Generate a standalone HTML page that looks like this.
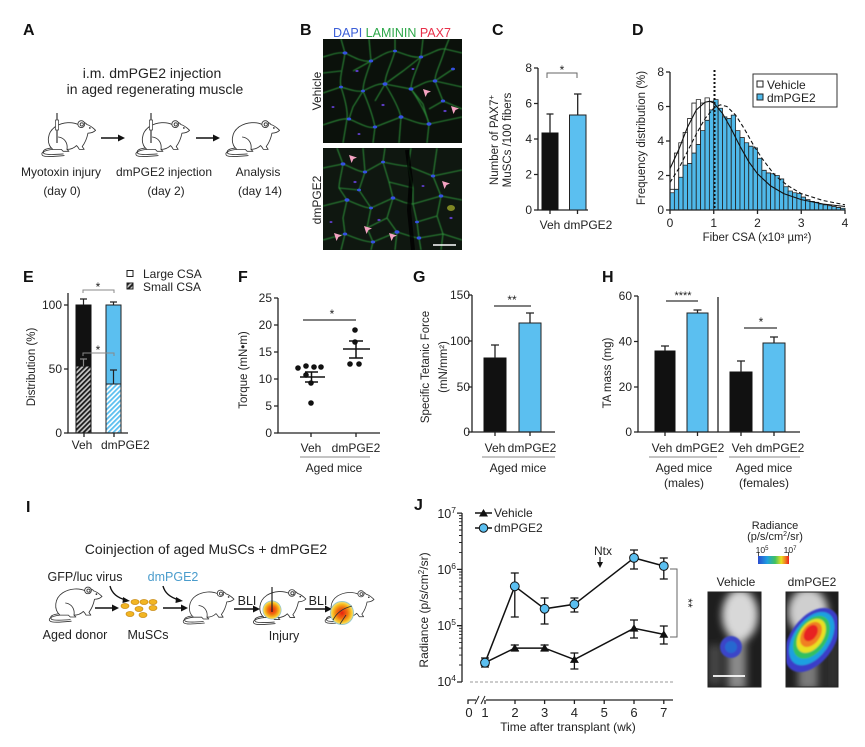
<!DOCTYPE html>
<html><head><meta charset="utf-8">
<style>
html,body{margin:0;padding:0;background:#fff}
svg{display:block}
text{font-family:"Liberation Sans",Arial,sans-serif;fill:#222}
.pl{font-size:16px;font-weight:bold;fill:#111}
.tk{font-size:12px}
.ax{font-size:11.5px}
.lb{font-size:12px}
</style></head><body>
<svg width="865" height="747" viewBox="0 0 865 747" xmlns="http://www.w3.org/2000/svg">
<defs>
<symbol id="mouse" viewBox="0 0 60 42" overflow="visible">
<g fill="#fff" stroke="#333" stroke-width="0.9" stroke-linejoin="round" stroke-linecap="round">
<path d="M15 34 C7 35 2 37 4 40 C6 42.5 16 41.5 27 40.5" fill="none"/>
<path d="M15 32.5 C7 33 3 35.5 6 38.5 C9 40 17 39.5 26 38.8" fill="none"/>
<path d="M15 34 C8 28 9 16 18 10 C26 5 36 5 42 8 C45 5 49 5 51 8 C55 9 58 12 60 14 C58 16 55 17 52 17 C51 22 49 27 46 31 L48 34 L43 34 C42 32 41 31 40 30 C37 33 33 34 30 34 L32 36 L26 36 L24 34 Z"/>
<path d="M21 21 C28 22 31 28 30 34" fill="none"/>
<circle cx="45" cy="7.5" r="3.6"/>
<circle cx="45.5" cy="7.8" r="1.7" fill="none"/>
</g>
<circle cx="54" cy="11.5" r="0.9" fill="#222"/>
</symbol>
<pattern id="hk" width="3.5" height="3.5" patternUnits="userSpaceOnUse" patternTransform="rotate(45)"><rect width="3.5" height="3.5" fill="#c8c8c8"/><rect width="1.8" height="3.5" fill="#1a1a1a"/></pattern>
<pattern id="hb" width="3.5" height="3.5" patternUnits="userSpaceOnUse" patternTransform="rotate(45)"><rect width="3.5" height="3.5" fill="#fff"/><rect width="1.8" height="3.5" fill="#5bbff0"/></pattern>
<linearGradient id="cb" x1="0" x2="1" y1="0" y2="0">
<stop offset="0" stop-color="#2a4bd0"/><stop offset="0.3" stop-color="#1fa0e0"/><stop offset="0.55" stop-color="#40c060"/><stop offset="0.75" stop-color="#e8e020"/><stop offset="0.88" stop-color="#f08020"/><stop offset="1" stop-color="#e82020"/>
</linearGradient>
<radialGradient id="glow"><stop offset="0" stop-color="#e82010"/><stop offset="0.45" stop-color="#f07010"/><stop offset="0.75" stop-color="#f8c020"/><stop offset="0.88" stop-color="#f8d860"/><stop offset="1" stop-color="#70c0f0"/></radialGradient>
<filter id="bl" x="-50%" y="-50%" width="200%" height="200%"><feGaussianBlur stdDeviation="4"/></filter>
<filter id="bl1" x="-20%" y="-20%" width="140%" height="140%"><feGaussianBlur stdDeviation="0.8"/></filter>
<filter id="bl05" x="-5%" y="-5%" width="110%" height="110%"><feGaussianBlur stdDeviation="0.5"/></filter>
<clipPath id="cB1"><rect x="323" y="39" width="139" height="104"/></clipPath>
<clipPath id="cB2"><rect x="323" y="148" width="139" height="102"/></clipPath>
<clipPath id="cV"><rect x="708" y="592" width="53" height="95"/></clipPath>
<clipPath id="cD"><rect x="786" y="592" width="52" height="95"/></clipPath>
<polygon id="arr" points="0,0 8,2.5 4.5,4 2.5,8" fill="#f4a3c2"/>
</defs>
<rect width="865" height="747" fill="#fff"/>

<!-- ===== Panel A ===== -->
<text class="pl" x="23" y="35">A</text>
<text x="152" y="78" text-anchor="middle" font-size="14">i.m. dmPGE2 injection</text>
<text x="155" y="94" text-anchor="middle" font-size="14">in aged regenerating muscle</text>
<use href="#mouse" x="38" y="117" width="58" height="40"/>
<use href="#mouse" x="132" y="117" width="58" height="40"/>
<use href="#mouse" x="222" y="117" width="58" height="40"/>
<line x1="57" y1="113" x2="57" y2="143" stroke="#333" stroke-width="1.2"/>
<rect x="55.5" y="120" width="3" height="10" fill="#fff" stroke="#333" stroke-width="0.7"/>
<line x1="151" y1="113" x2="151" y2="143" stroke="#333" stroke-width="1.2"/>
<rect x="149.5" y="120" width="3" height="10" fill="#fff" stroke="#333" stroke-width="0.7"/>
<line x1="101" y1="138" x2="120" y2="138" stroke="#111" stroke-width="1.6"/>
<polygon points="125,138 118,134.5 118,141.5" fill="#111"/>
<line x1="196" y1="138" x2="215" y2="138" stroke="#111" stroke-width="1.6"/>
<polygon points="220,138 213,134.5 213,141.5" fill="#111"/>
<text class="lb" x="61" y="176" text-anchor="middle">Myotoxin injury</text>
<text class="lb" x="62" y="195" text-anchor="middle">(day 0)</text>
<text class="lb" x="164" y="176" text-anchor="middle">dmPGE2 injection</text>
<text class="lb" x="166" y="195" text-anchor="middle">(day 2)</text>
<text class="lb" x="258" y="176" text-anchor="middle">Analysis</text>
<text class="lb" x="260" y="195" text-anchor="middle">(day 14)</text>

<!-- ===== Panel B ===== -->
<text class="pl" x="300" y="35">B</text>
<text x="333" y="37" font-size="12.5"><tspan fill="#3c5fd8">DAPI</tspan> <tspan fill="#2ea84a">LAMININ</tspan> <tspan fill="#e8304a">PAX7</tspan></text>
<text x="321" y="91" font-size="12" text-anchor="middle" transform="rotate(-90 321 91)">Vehicle</text>
<text x="321" y="200" font-size="12" text-anchor="middle" transform="rotate(-90 321 200)">dmPGE2</text>
<g clip-path="url(#cB1)">
<rect x="323" y="39" width="139" height="104" fill="#0b110b"/>
<g transform="translate(323,39)" fill="none" stroke="#2f9a3c" stroke-width="1.1" stroke-opacity="0.85" filter="url(#bl05)">
<path d="M0 18 C10 15 16 13 22 14 C34 20 40 23 48 22 C58 17 64 12 72 12 C84 16 90 19 98 18 C110 14 116 9 122 10 L139 14"/>
<path d="M0 54 L18 48 C28 51 34 53 40 52 C50 47 56 44 62 45 L88 50 C98 46 104 41 112 42 L139 48"/>
<path d="M0 86 C12 82 20 79 26 80 C38 85 46 90 52 88 L78 78 C90 82 98 86 106 85 L139 78"/>
<path d="M18 0 L22 14 C20 28 16 40 18 48 C22 60 25 72 24 80 L20 104"/>
<path d="M46 0 L48 22 C44 34 40 44 40 52 C46 66 50 78 52 88 L50 104"/>
<path d="M72 0 L72 12 C68 26 62 36 62 45 C70 58 76 70 78 78 L76 104"/>
<path d="M100 0 L98 18 C94 30 88 42 88 50 C96 62 104 76 106 85 L104 104"/>
<path d="M126 0 L122 10 C118 24 112 34 112 42 L120 62 L139 70"/>
<path d="M30 32 L48 22 M62 45 L80 32 L98 18 M88 50 L100 65 L106 85 M40 52 L30 68 L26 80 M112 42 L130 30 M0 34 L18 32 M120 62 L106 70 M62 45 L52 62"/>
</g>
<g transform="translate(323,39)" fill="#3550e0">
<ellipse cx="22" cy="14" rx="2.5" ry="1.6"/><ellipse cx="48" cy="22" rx="2.2" ry="1.5"/><ellipse cx="62" cy="45" rx="2.5" ry="1.7"/><ellipse cx="88" cy="50" rx="2.4" ry="1.6"/><ellipse cx="112" cy="42" rx="2.3" ry="1.6"/><ellipse cx="78" cy="78" rx="2.5" ry="1.7"/><ellipse cx="26" cy="80" rx="2.2" ry="1.5"/><ellipse cx="106" cy="85" rx="2.5" ry="1.7"/><ellipse cx="18" cy="48" rx="2" ry="1.4"/><ellipse cx="98" cy="18" rx="2.2" ry="1.5"/><ellipse cx="130" cy="30" rx="2" ry="1.4"/><ellipse cx="52" cy="88" rx="2.2" ry="1.5"/><ellipse cx="72" cy="12" rx="2" ry="1.4"/><ellipse cx="40" cy="52" rx="2" ry="1.4"/><ellipse cx="120" cy="62" rx="2.2" ry="1.5"/>
<g fill="#5a3cc0"><ellipse cx="34" cy="32" rx="1.6" ry="1.1"/><ellipse cx="60" cy="66" rx="1.6" ry="1.1"/><ellipse cx="90" cy="30" rx="1.5" ry="1"/><ellipse cx="122" cy="72" rx="1.6" ry="1.1"/><ellipse cx="10" cy="68" rx="1.5" ry="1"/><ellipse cx="36" cy="95" rx="1.5" ry="1"/></g>
</g>
<use href="#arr" x="423" y="89"/>
<use href="#arr" x="451" y="106"/>
</g>
<g clip-path="url(#cB2)">
<rect x="323" y="148" width="139" height="102" fill="#0f1710"/>
<g transform="translate(323,148)" fill="none" stroke="#2f9a3c" stroke-width="1.1" stroke-opacity="0.85" filter="url(#bl05)">
<path d="M0 20 L20 16 C30 20 36 24 42 24 L60 14 C70 16 78 18 85 18 L110 28 L139 22"/>
<path d="M0 58 L24 52 C34 56 42 60 48 60 L70 50 C78 53 84 56 90 56 L118 48 L139 52"/>
<path d="M0 92 L22 86 C32 90 42 94 50 94 L74 84 C82 86 90 90 96 90 L120 86 L139 92"/>
<path d="M14 0 L20 16 C18 28 16 34 16 40 L24 52 L20 70 L22 86 L18 102"/>
<path d="M40 0 L42 24 L36 42 L48 60 L44 80 L50 94 L48 102"/>
<path d="M62 0 L60 14 L66 34 L70 50 L64 70 L74 84 L72 102"/>
<path d="M88 0 L85 18 L90 40 L90 56 L94 74 L96 90 L98 102"/>
<path d="M114 0 L110 28 L118 48 L114 68 L120 86 L118 102"/>
<path d="M36 42 L16 40 M66 34 L90 40 M114 68 L94 74 M44 80 L64 70"/>
</g>
<path d="M84 150 L88 180 L86 210 L90 250" stroke="#000" stroke-width="4" fill="none" transform="translate(323,0)" opacity="0.8"/>
<g transform="translate(323,148)" fill="#3550e0">
<ellipse cx="20" cy="16" rx="2.4" ry="1.6"/><ellipse cx="42" cy="24" rx="2.2" ry="1.5"/><ellipse cx="24" cy="52" rx="2.5" ry="1.7"/><ellipse cx="70" cy="50" rx="2.3" ry="1.6"/><ellipse cx="118" cy="48" rx="2.3" ry="1.6"/><ellipse cx="74" cy="84" rx="2.5" ry="1.7"/><ellipse cx="22" cy="86" rx="2.2" ry="1.5"/><ellipse cx="96" cy="90" rx="2.3" ry="1.6"/><ellipse cx="48" cy="60" rx="2" ry="1.4"/><ellipse cx="110" cy="28" rx="2.2" ry="1.5"/><ellipse cx="60" cy="14" rx="2" ry="1.4"/><ellipse cx="50" cy="94" rx="2.2" ry="1.5"/><ellipse cx="36" cy="42" rx="2" ry="1.4"/><ellipse cx="94" cy="74" rx="2" ry="1.4"/>
<g fill="#5a3cc0"><ellipse cx="32" cy="34" rx="1.6" ry="1.1"/><ellipse cx="56" cy="72" rx="1.6" ry="1.1"/><ellipse cx="100" cy="38" rx="1.5" ry="1"/><ellipse cx="128" cy="70" rx="1.6" ry="1.1"/><ellipse cx="8" cy="74" rx="1.5" ry="1"/></g>
<ellipse cx="128" cy="60" rx="4" ry="3" fill="#c8d030" opacity="0.6"/>
</g>
<use href="#arr" x="349" y="155"/>
<use href="#arr" x="442" y="181"/>
<use href="#arr" x="364" y="226"/>
<use href="#arr" x="389" y="233"/>
<use href="#arr" x="334" y="233"/>
<line x1="433" y1="245" x2="456" y2="245" stroke="#fff" stroke-width="1.6"/>
</g>

<!-- ===== Panel C ===== -->
<text class="pl" x="492" y="35">C</text>
<g stroke="#222" stroke-width="1.3" fill="none">
<path d="M538 68 V210 H588"/>
<path d="M534 68 H538 M534 103.5 H538 M534 139 H538 M534 174.5 H538 M534 210 H538"/>
<path d="M550 210 V214 M577.5 210 V214"/>
</g>
<g class="tk" text-anchor="end"><text x="532" y="72">8</text><text x="532" y="107.5">6</text><text x="532" y="143">4</text><text x="532" y="178.5">2</text><text x="532" y="214">0</text></g>
<rect x="542" y="133" width="16" height="77" fill="#111" stroke="#111"/>
<rect x="569.5" y="115" width="16.5" height="95" fill="#5bbff0" stroke="#222" stroke-width="1"/>
<g stroke="#222" stroke-width="1.3"><path d="M550 133 V114 M546.5 114 H553.5 M577.7 115 V94 M574 94 H581.5"/></g>
<path d="M547 78 V73 H577 V78" stroke="#666" stroke-width="1" fill="none"/>
<text x="562" y="74" font-size="12" fill="#666" text-anchor="middle">*</text>
<text class="lb" x="550" y="229" text-anchor="middle">Veh</text>
<text class="lb" x="588" y="229" text-anchor="middle">dmPGE2</text>
<text class="ax" x="498" y="140" text-anchor="middle" transform="rotate(-90 498 140)">Number of PAX7<tspan font-size="8" dy="-4">+</tspan></text>
<text class="ax" x="511" y="140" text-anchor="middle" transform="rotate(-90 511 140)">MuSCs /100 fibers</text>

<!-- ===== Panel D ===== -->
<text class="pl" x="632" y="35">D</text>
<g transform="translate(670,210) scale(4.375,-17.25)" stroke="#222" stroke-width="0.8">
<g fill="#fff">
<rect x="0" y="0" width="1" height="1.2" vector-effect="non-scaling-stroke"/>
<rect x="1" y="0" width="1" height="3.3" vector-effect="non-scaling-stroke"/>
<rect x="2" y="0" width="1" height="3.9" vector-effect="non-scaling-stroke"/>
<rect x="3" y="0" width="1" height="4.5" vector-effect="non-scaling-stroke"/>
<rect x="4" y="0" width="1" height="5.3" vector-effect="non-scaling-stroke"/>
<rect x="5" y="0" width="1" height="6.2" vector-effect="non-scaling-stroke"/>
<rect x="6" y="0" width="1" height="6.4" vector-effect="non-scaling-stroke"/>
<rect x="7" y="0" width="1" height="6.2" vector-effect="non-scaling-stroke"/>
<rect x="8" y="0" width="1" height="6.5" vector-effect="non-scaling-stroke"/>
<rect x="9" y="0" width="1" height="6.3" vector-effect="non-scaling-stroke"/>
<rect x="10" y="0" width="1" height="5.7" vector-effect="non-scaling-stroke"/>
<rect x="11" y="0" width="1" height="5.0" vector-effect="non-scaling-stroke"/>
<rect x="12" y="0" width="1" height="4.5" vector-effect="non-scaling-stroke"/>
<rect x="13" y="0" width="1" height="4.0" vector-effect="non-scaling-stroke"/>
<rect x="14" y="0" width="1" height="3.5" vector-effect="non-scaling-stroke"/>
<rect x="15" y="0" width="1" height="3.0" vector-effect="non-scaling-stroke"/>
<rect x="16" y="0" width="1" height="2.6" vector-effect="non-scaling-stroke"/>
<rect x="17" y="0" width="1" height="2.3" vector-effect="non-scaling-stroke"/>
<rect x="18" y="0" width="1" height="2.0" vector-effect="non-scaling-stroke"/>
<rect x="19" y="0" width="1" height="1.8" vector-effect="non-scaling-stroke"/>
<rect x="20" y="0" width="1" height="1.6" vector-effect="non-scaling-stroke"/>
<rect x="21" y="0" width="1" height="1.4" vector-effect="non-scaling-stroke"/>
<rect x="22" y="0" width="1" height="1.2" vector-effect="non-scaling-stroke"/>
<rect x="23" y="0" width="1" height="1.0" vector-effect="non-scaling-stroke"/>
<rect x="24" y="0" width="1" height="0.9" vector-effect="non-scaling-stroke"/>
<rect x="25" y="0" width="1" height="0.8" vector-effect="non-scaling-stroke"/>
<rect x="26" y="0" width="1" height="0.7" vector-effect="non-scaling-stroke"/>
<rect x="27" y="0" width="1" height="0.6" vector-effect="non-scaling-stroke"/>
<rect x="28" y="0" width="1" height="0.5" vector-effect="non-scaling-stroke"/>
<rect x="29" y="0" width="1" height="0.45" vector-effect="non-scaling-stroke"/>
<rect x="30" y="0" width="1" height="0.4" vector-effect="non-scaling-stroke"/>
<rect x="31" y="0" width="1" height="0.35" vector-effect="non-scaling-stroke"/>
<rect x="32" y="0" width="1" height="0.3" vector-effect="non-scaling-stroke"/>
<rect x="33" y="0" width="1" height="0.25" vector-effect="non-scaling-stroke"/>
<rect x="34" y="0" width="1" height="0.2" vector-effect="non-scaling-stroke"/>
<rect x="35" y="0" width="1" height="0.18" vector-effect="non-scaling-stroke"/>
<rect x="36" y="0" width="1" height="0.15" vector-effect="non-scaling-stroke"/>
<rect x="37" y="0" width="1" height="0.12" vector-effect="non-scaling-stroke"/>
<rect x="38" y="0" width="1" height="0.1" vector-effect="non-scaling-stroke"/>
<rect x="39" y="0" width="1" height="0.08" vector-effect="non-scaling-stroke"/>
</g>
<g fill="#4fb9ea">
<rect x="0" y="0" width="1" height="1.0" vector-effect="non-scaling-stroke"/>
<rect x="1" y="0" width="1" height="1.2" vector-effect="non-scaling-stroke"/>
<rect x="2" y="0" width="1" height="1.9" vector-effect="non-scaling-stroke"/>
<rect x="3" y="0" width="1" height="2.6" vector-effect="non-scaling-stroke"/>
<rect x="4" y="0" width="1" height="2.7" vector-effect="non-scaling-stroke"/>
<rect x="5" y="0" width="1" height="3.3" vector-effect="non-scaling-stroke"/>
<rect x="6" y="0" width="1" height="3.8" vector-effect="non-scaling-stroke"/>
<rect x="7" y="0" width="1" height="4.6" vector-effect="non-scaling-stroke"/>
<rect x="8" y="0" width="1" height="5.2" vector-effect="non-scaling-stroke"/>
<rect x="9" y="0" width="1" height="5.8" vector-effect="non-scaling-stroke"/>
<rect x="10" y="0" width="1" height="6.4" vector-effect="non-scaling-stroke"/>
<rect x="11" y="0" width="1" height="5.9" vector-effect="non-scaling-stroke"/>
<rect x="12" y="0" width="1" height="5.4" vector-effect="non-scaling-stroke"/>
<rect x="13" y="0" width="1" height="5.3" vector-effect="non-scaling-stroke"/>
<rect x="14" y="0" width="1" height="5.5" vector-effect="non-scaling-stroke"/>
<rect x="15" y="0" width="1" height="4.6" vector-effect="non-scaling-stroke"/>
<rect x="16" y="0" width="1" height="4.2" vector-effect="non-scaling-stroke"/>
<rect x="17" y="0" width="1" height="3.9" vector-effect="non-scaling-stroke"/>
<rect x="18" y="0" width="1" height="3.7" vector-effect="non-scaling-stroke"/>
<rect x="19" y="0" width="1" height="3.6" vector-effect="non-scaling-stroke"/>
<rect x="20" y="0" width="1" height="3.0" vector-effect="non-scaling-stroke"/>
<rect x="21" y="0" width="1" height="2.3" vector-effect="non-scaling-stroke"/>
<rect x="22" y="0" width="1" height="2.15" vector-effect="non-scaling-stroke"/>
<rect x="23" y="0" width="1" height="2.1" vector-effect="non-scaling-stroke"/>
<rect x="24" y="0" width="1" height="2.0" vector-effect="non-scaling-stroke"/>
<rect x="25" y="0" width="1" height="1.8" vector-effect="non-scaling-stroke"/>
<rect x="26" y="0" width="1" height="1.35" vector-effect="non-scaling-stroke"/>
<rect x="27" y="0" width="1" height="1.1" vector-effect="non-scaling-stroke"/>
<rect x="28" y="0" width="1" height="1.0" vector-effect="non-scaling-stroke"/>
<rect x="29" y="0" width="1" height="0.95" vector-effect="non-scaling-stroke"/>
<rect x="30" y="0" width="1" height="0.75" vector-effect="non-scaling-stroke"/>
<rect x="31" y="0" width="1" height="0.6" vector-effect="non-scaling-stroke"/>
<rect x="32" y="0" width="1" height="0.5" vector-effect="non-scaling-stroke"/>
<rect x="33" y="0" width="1" height="0.45" vector-effect="non-scaling-stroke"/>
<rect x="34" y="0" width="1" height="0.35" vector-effect="non-scaling-stroke"/>
<rect x="35" y="0" width="1" height="0.3" vector-effect="non-scaling-stroke"/>
<rect x="36" y="0" width="1" height="0.25" vector-effect="non-scaling-stroke"/>
<rect x="37" y="0" width="1" height="0.2" vector-effect="non-scaling-stroke"/>
<rect x="38" y="0" width="1" height="0.15" vector-effect="non-scaling-stroke"/>
<rect x="39" y="0" width="1" height="0.1" vector-effect="non-scaling-stroke"/>
</g>
</g>
<polyline fill="none" stroke="#111" stroke-width="1.1" points="670,168.6 678.75,149.6 687.5,127.2 696.25,110 705,102.2 709.4,101.3 713.75,103 722.5,113.4 731.25,128.9 740,146.2 748.75,161.7 757.5,173.8 770.6,185.9 783.75,193.6 801.25,199.65 823.1,204 845,206.5"/>
<polyline fill="none" stroke="#111" stroke-width="1.1" stroke-dasharray="4 2.5" points="670,182.4 678.75,168.6 687.5,151.35 696.25,134.1 705,118.6 713.75,108.2 720.3,104.8 726.9,106.5 735.6,115.1 744.4,128.9 753.1,144.45 761.9,158.25 775,175.5 788.1,185.85 801.25,193.6 823.1,200.5 845,204.8"/>
<line x1="714.5" y1="70" x2="714.5" y2="210" stroke="#111" stroke-width="2" stroke-dasharray="2 2"/>
<g stroke="#222" stroke-width="1.3" fill="none">
<path d="M670 72 V210 H845"/>
<path d="M666 72 H670 M666 106.5 H670 M666 141 H670 M666 175.5 H670 M666 210 H670"/>
<path d="M670 210 V214 M713.75 210 V214 M757.5 210 V214 M801.25 210 V214 M845 210 V214"/>
</g>
<g class="tk" text-anchor="end"><text x="664" y="76">8</text><text x="664" y="110.5">6</text><text x="664" y="145">4</text><text x="664" y="179.5">2</text><text x="664" y="214">0</text></g>
<g class="tk" text-anchor="middle"><text x="670" y="227">0</text><text x="713.75" y="227">1</text><text x="757.5" y="227">2</text><text x="801.25" y="227">3</text><text x="845" y="227">4</text></g>
<text class="ax" x="757" y="241" text-anchor="middle">Fiber CSA (x10³ µm²)</text>
<text class="ax" x="645" y="138" text-anchor="middle" transform="rotate(-90 645 138)">Frequency distribution (%)</text>
<rect x="753" y="74" width="84" height="33" fill="#fff" stroke="#333" stroke-width="1"/>
<rect x="757" y="81" width="6" height="6" fill="#fff" stroke="#222"/>
<rect x="757" y="94" width="6" height="6" fill="#4fb9ea" stroke="#222"/>
<text class="lb" x="767" y="89">Vehicle</text>
<text class="lb" x="767" y="102">dmPGE2</text>

<!-- ===== Panel E ===== -->
<text class="pl" x="23" y="282">E</text>
<rect x="127" y="270.5" width="6" height="6" fill="#fff" stroke="#222"/>
<rect x="127" y="283" width="6" height="6" fill="url(#hk)" stroke="#222"/>
<text class="lb" x="143" y="278">Large CSA</text>
<text class="lb" x="143" y="291">Small CSA</text>
<rect x="76" y="305" width="15" height="61" fill="#111" stroke="#111"/>
<rect x="76" y="366" width="15" height="67" fill="url(#hk)" stroke="#111"/>
<rect x="106" y="305" width="15" height="79" fill="#5bbff0" stroke="#222"/>
<rect x="106" y="384" width="15" height="49" fill="url(#hb)" stroke="#222"/>
<g stroke="#222" stroke-width="1.2"><path d="M83.5 305 V299 M80 299 H87 M113.5 305 V302 M110 302 H117 M113.5 384 V370 M110 370 H117"/></g>
<path d="M83.5 366 V359 M80 359 H87" stroke="#888" stroke-width="1.2"/>
<g stroke="#888" stroke-width="1" fill="none"><path d="M83 293 V290 H114 V293"/><path d="M83 356 V353 H114 V356"/></g>
<text x="98" y="291" font-size="12" fill="#888" text-anchor="middle">*</text>
<text x="98" y="354" font-size="12" fill="#888" text-anchor="middle">*</text>
<g stroke="#222" stroke-width="1.3" fill="none">
<path d="M68 293 V433 H128"/>
<path d="M64 305 H68 M64 369 H68 M64 433 H68 M84 433 V437 M114 433 V437"/>
</g>
<g class="tk" text-anchor="end"><text x="62" y="309">100</text><text x="62" y="373">50</text><text x="62" y="437">0</text></g>
<text class="lb" x="82" y="449" text-anchor="middle">Veh</text>
<text class="lb" x="101" y="449">dmPGE2</text>
<text class="ax" x="35" y="367" text-anchor="middle" transform="rotate(-90 35 367)">Distribution (%)</text>

<!-- ===== Panel F ===== -->
<text class="pl" x="238" y="282">F</text>
<g stroke="#222" stroke-width="1.3" fill="none">
<path d="M278 298 V433 H380"/>
<path d="M274 298 H278 M274 325 H278 M274 352 H278 M274 379 H278 M274 406 H278 M274 433 H278 M311 433 V437 M356 433 V437"/>
</g>
<g class="tk" text-anchor="end"><text x="272" y="302">25</text><text x="272" y="329">20</text><text x="272" y="356">15</text><text x="272" y="383">10</text><text x="272" y="410">5</text><text x="272" y="437">0</text></g>
<text class="ax" x="247" y="370" text-anchor="middle" transform="rotate(-90 247 370)">Torque (mN•m)</text>
<g fill="#111"><circle cx="298" cy="368" r="2.8"/><circle cx="306" cy="366" r="2.8"/><circle cx="314" cy="367" r="2.8"/><circle cx="321" cy="367" r="2.8"/><circle cx="306" cy="375" r="2.8"/><circle cx="311" cy="383" r="2.8"/><circle cx="311" cy="403" r="2.8"/>
<circle cx="355" cy="330" r="2.8"/><circle cx="355" cy="342" r="2.8"/><circle cx="350" cy="364" r="2.8"/><circle cx="359" cy="364" r="2.8"/></g>
<g stroke="#111" stroke-width="1.5"><path d="M300 377 H325 M305 372 H318 M305 382 H318 M311.5 372 V382 M343 349 H370 M349 341 H363 M349 358 H363 M356 341 V358"/></g>
<line x1="303" y1="320" x2="356" y2="320" stroke="#333" stroke-width="1.2"/>
<text x="332" y="318" font-size="12" fill="#777" text-anchor="middle">*</text>
<text class="lb" x="311" y="452" text-anchor="middle">Veh</text>
<text class="lb" x="356" y="452" text-anchor="middle">dmPGE2</text>
<line x1="300" y1="457" x2="370" y2="457" stroke="#888" stroke-width="1"/>
<text class="lb" x="334" y="472" text-anchor="middle">Aged mice</text>

<!-- ===== Panel G ===== -->
<text class="pl" x="413" y="282">G</text>
<rect x="484" y="358" width="22" height="74" fill="#111" stroke="#111"/>
<rect x="519" y="323" width="22" height="109" fill="#5bbff0" stroke="#222"/>
<g stroke="#222" stroke-width="1.3"><path d="M495 358 V345 M491 345 H499 M530 323 V313 M526 313 H534"/></g>
<g stroke="#222" stroke-width="1.3" fill="none">
<path d="M472 295 V432 H555"/>
<path d="M468 295 H472 M468 341 H472 M468 387 H472 M468 432 H472 M495 432 V436 M530 432 V436"/>
</g>
<g class="tk" text-anchor="end"><text x="470" y="299">150</text><text x="470" y="345">100</text><text x="470" y="391">50</text><text x="470" y="436">0</text></g>
<line x1="494" y1="306" x2="531" y2="306" stroke="#333" stroke-width="1.2"/>
<text x="512" y="304" font-size="12" fill="#777" text-anchor="middle">**</text>
<text class="lb" x="495" y="452" text-anchor="middle">Veh</text>
<text class="lb" x="532" y="452" text-anchor="middle">dmPGE2</text>
<line x1="482" y1="457" x2="555" y2="457" stroke="#888" stroke-width="1"/>
<text class="lb" x="518" y="472" text-anchor="middle">Aged mice</text>
<text class="ax" x="429" y="367" text-anchor="middle" transform="rotate(-90 429 367)">Specific Tetanic Force</text>
<text class="ax" x="447" y="367" text-anchor="middle" transform="rotate(-90 447 367)">(mN/mm²)</text>

<!-- ===== Panel H ===== -->
<text class="pl" x="602" y="282">H</text>
<rect x="655" y="351" width="20" height="81" fill="#111" stroke="#111"/>
<rect x="687" y="313" width="21" height="119" fill="#5bbff0" stroke="#222"/>
<rect x="730" y="372" width="22" height="60" fill="#111" stroke="#111"/>
<rect x="763" y="343" width="22" height="89" fill="#5bbff0" stroke="#222"/>
<g stroke="#222" stroke-width="1.3"><path d="M665 351 V346 M661 346 H669 M697.5 313 V310 M693.5 310 H701.5 M741 372 V361 M737 361 H745 M774 343 V337 M770 337 H778"/></g>
<g stroke="#222" stroke-width="1.3" fill="none">
<path d="M638 296 V432 H800"/>
<path d="M718 297 V432"/>
<path d="M634 296 H638 M634 341.5 H638 M634 387 H638 M634 432 H638 M665 432 V436 M697.5 432 V436 M741 432 V436 M774 432 V436"/>
</g>
<g class="tk" text-anchor="end"><text x="632" y="300">60</text><text x="632" y="345.5">40</text><text x="632" y="391">20</text><text x="632" y="436">0</text></g>
<line x1="666" y1="301" x2="698" y2="301" stroke="#333" stroke-width="1.2"/>
<text x="683" y="299" font-size="11" fill="#777" text-anchor="middle">****</text>
<line x1="744" y1="328" x2="777" y2="328" stroke="#333" stroke-width="1.2"/>
<text x="761" y="326" font-size="12" fill="#777" text-anchor="middle">*</text>
<text class="lb" x="662" y="452" text-anchor="middle">Veh</text>
<text class="lb" x="700" y="452" text-anchor="middle">dmPGE2</text>
<text class="lb" x="742" y="452" text-anchor="middle">Veh</text>
<text class="lb" x="780" y="452" text-anchor="middle">dmPGE2</text>
<line x1="649" y1="457" x2="717" y2="457" stroke="#888" stroke-width="1"/>
<line x1="729" y1="457" x2="800" y2="457" stroke="#888" stroke-width="1"/>
<text class="lb" x="684" y="472" text-anchor="middle">Aged mice</text>
<text class="lb" x="764" y="472" text-anchor="middle">Aged mice</text>
<text class="lb" x="684" y="487" text-anchor="middle">(males)</text>
<text class="lb" x="764" y="487" text-anchor="middle">(females)</text>
<text class="ax" x="611" y="373" text-anchor="middle" transform="rotate(-90 611 373)">TA mass (mg)</text>

<!-- ===== Panel I ===== -->
<text class="pl" x="26" y="512">I</text>
<text x="206" y="554" text-anchor="middle" font-size="14">Coinjection of aged MuSCs + dmPGE2</text>
<text x="85" y="581" text-anchor="middle" font-size="12.5">GFP/luc virus</text>
<text x="173" y="581" text-anchor="middle" font-size="12.5" style="fill:#4a9ccc">dmPGE2</text>
<use href="#mouse" x="46" y="583" width="56" height="40"/>
<use href="#mouse" x="180" y="586" width="54" height="39"/>
<use href="#mouse" x="250" y="586" width="56" height="39"/>
<use href="#mouse" x="322" y="586" width="52" height="39"/>
<g stroke="#111" stroke-width="1.4" fill="none">
<path d="M95 608 H114"/><path d="M163 608 H183"/><path d="M234 609 H255"/><path d="M305 609 H327"/>
<path d="M110 586 C112 594 118 598 126 600"/>
<path d="M163 586 C165 594 172 598 179 600"/>
</g>
<g fill="#111">
<polygon points="119,608 112,604.5 112,611.5"/><polygon points="188,608 181,604.5 181,611.5"/><polygon points="260,609 253,605.5 253,612.5"/><polygon points="332,609 325,605.5 325,612.5"/>
<polygon points="130,601 123,597 122.5,603"/><polygon points="183,601 176,597 175.5,603"/>
</g>
<g fill="#f2b522" stroke="#c98a10" stroke-width="0.7">
<ellipse cx="135" cy="602" rx="4" ry="2.5"/><ellipse cx="144" cy="602" rx="4" ry="2.5"/><ellipse cx="153" cy="602" rx="4" ry="2.5"/>
<ellipse cx="125" cy="606" rx="4" ry="2.5"/><ellipse cx="139" cy="609" rx="4" ry="2.5"/><ellipse cx="153" cy="608" rx="4" ry="2.5"/>
<ellipse cx="130" cy="614" rx="4" ry="2.5"/><ellipse cx="143" cy="615" rx="4" ry="2.5"/>
</g>
<circle cx="272" cy="610" r="9.5" fill="url(#glow)"/>
<line x1="272" y1="587" x2="272" y2="612" stroke="#222" stroke-width="1.2"/>
<circle cx="342" cy="613" r="12" fill="url(#glow)"/>
<path d="M333 620 C337 612 344 608 352 606 M340 624 L346 615" stroke="#333" stroke-width="0.9" fill="none"/>
<text x="247" y="605" text-anchor="middle" font-size="12.5">BLI</text>
<text x="318" y="605" text-anchor="middle" font-size="12.5">BLI</text>
<text x="75" y="639" text-anchor="middle" font-size="12.5">Aged donor</text>
<text x="148" y="639" text-anchor="middle" font-size="12.5">MuSCs</text>
<text x="284" y="640" text-anchor="middle" font-size="12.5">Injury</text>

<!-- ===== Panel J ===== -->
<text class="pl" x="414" y="510">J</text>
<line x1="470" y1="682" x2="673" y2="682" stroke="#999" stroke-width="1" stroke-dasharray="3 2"/>
<g stroke="#222" stroke-width="1.3" fill="none">
<path d="M462 513 V682"/>
<path d="M457 513.1 H462 M457 569.4 H462 M457 625.7 H462 M457 682 H462"/>
</g>
<g stroke="#222" stroke-width="0.9">
<path d="M459 665 H462 M459 655.1 H462 M459 648.1 H462 M459 642.6 H462 M459 638.2 H462 M459 634.4 H462 M459 631.2 H462 M459 628.3 H462"/>
<path d="M459 608.7 H462 M459 598.8 H462 M459 591.8 H462 M459 586.3 H462 M459 581.9 H462 M459 578.1 H462 M459 574.9 H462 M459 572 H462"/>
<path d="M459 552.4 H462 M459 542.5 H462 M459 535.5 H462 M459 530 H462 M459 525.6 H462 M459 521.8 H462 M459 518.6 H462 M459 515.7 H462"/>
</g>
<g font-size="12.5" text-anchor="end">
<text x="456" y="518">10<tspan font-size="8.5" dy="-5">7</tspan></text>
<text x="456" y="574">10<tspan font-size="8.5" dy="-5">6</tspan></text>
<text x="456" y="630">10<tspan font-size="8.5" dy="-5">5</tspan></text>
<text x="456" y="686">10<tspan font-size="8.5" dy="-5">4</tspan></text>
</g>
<g stroke="#222" stroke-width="1.3" fill="none">
<path d="M468 704 V700 H476 M486 700 H673"/>
<path d="M475 704 L479 696 M481 704 L485 696" stroke-width="1"/>
<path d="M485 700 V704 M515 700 V704 M544.6 700 V704 M574.4 700 V704 M604.2 700 V704 M634 700 V704 M663.8 700 V704"/>
</g>
<g font-size="13" text-anchor="middle">
<text x="469" y="717">0</text><text x="485" y="717">1</text><text x="515" y="717">2</text><text x="544.6" y="717">3</text><text x="574.4" y="717">4</text><text x="604.2" y="717">5</text><text x="634" y="717">6</text><text x="663.8" y="717">7</text>
</g>
<text class="lb" x="568" y="731" text-anchor="middle">Time after transplant (wk)</text>
<text x="428" y="610" font-size="12" text-anchor="middle" transform="rotate(-90 428 610)">Radiance  (p/s/cm<tspan font-size="8" dy="-4">2</tspan><tspan dy="4">/sr)</tspan></text>
<g stroke="#111" stroke-width="1.3">
<path d="M485 658 V667 M481 658 H489 M481 667 H489"/>
<path d="M514.8 645 V651 M510.8 645 H518.8 M510.8 651 H518.8"/>
<path d="M544.6 645 V651 M540.6 645 H548.6 M540.6 651 H548.6"/>
<path d="M574.4 653 V669 M570.4 653 H578.4 M570.4 669 H578.4"/>
<path d="M634 620 V638 M630 620 H638 M630 638 H638"/>
<path d="M663.8 626 V644 M659.8 626 H667.8 M659.8 644 H667.8"/>
<path d="M514.8 573 V617 M510.8 573 H518.8 M510.8 617 H518.8"/>
<path d="M544.6 598 V624 M540.6 598 H548.6 M540.6 624 H548.6"/>
<path d="M574.4 598 V612 M570.4 598 H578.4 M570.4 612 H578.4"/>
<path d="M634 550 V569 M630 550 H638 M630 569 H638"/>
<path d="M663.8 558 V579 M659.8 558 H667.8 M659.8 579 H667.8"/>
</g>
<polyline fill="none" stroke="#111" stroke-width="1.5" points="485,662.7 514.8,648.1 544.6,648.1 574.4,659.6 634,628.3 663.8,634.4"/>
<polyline fill="none" stroke="#111" stroke-width="1.5" points="485,662.7 514.8,586.3 544.6,608.8 574.4,604.3 634,557.9 663.8,566"/>
<g fill="#111">
<polygon points="485,658.5 489.5,666 480.5,666"/><polygon points="514.8,643.9 519.3,651.4 510.3,651.4"/><polygon points="544.6,643.9 549.1,651.4 540.1,651.4"/><polygon points="574.4,655.4 578.9,662.9 569.9,662.9"/><polygon points="634,624.1 638.5,631.6 629.5,631.6"/><polygon points="663.8,630.2 668.3,637.7 659.3,637.7"/>
</g>
<g fill="#5bbff0" stroke="#111" stroke-width="1">
<circle cx="485" cy="662.7" r="4.4"/><circle cx="514.8" cy="586.3" r="4.4"/><circle cx="544.6" cy="608.8" r="4.4"/><circle cx="574.4" cy="604.3" r="4.4"/><circle cx="634" cy="557.9" r="4.4"/><circle cx="663.8" cy="566" r="4.4"/>
</g>
<line x1="475" y1="513" x2="492" y2="513" stroke="#111" stroke-width="1.4"/>
<polygon points="483.5,509 488,516.5 479,516.5" fill="#111"/>
<text class="lb" x="494" y="517">Vehicle</text>
<line x1="475" y1="528" x2="492" y2="528" stroke="#111" stroke-width="1.4"/>
<circle cx="483.5" cy="528" r="4.2" fill="#5bbff0" stroke="#111"/>
<text class="lb" x="494" y="532">dmPGE2</text>
<text class="lb" x="603" y="555" text-anchor="middle">Ntx</text>
<line x1="600" y1="557" x2="600" y2="564" stroke="#111" stroke-width="1.2"/>
<polygon points="600,568 597,562 603,562" fill="#111"/>
<path d="M670 569 H677 V637 H670" stroke="#666" stroke-width="1" fill="none"/>
<text x="684" y="603" font-size="12" fill="#666" text-anchor="middle" transform="rotate(90 684 603)">**</text>

<text x="775" y="529" font-size="11" text-anchor="middle">Radiance</text>
<text x="775" y="540" font-size="11" text-anchor="middle">(p/s/cm<tspan font-size="7" dy="-4">2</tspan><tspan dy="4">/sr)</tspan></text>
<text x="762" y="553" font-size="8.5" text-anchor="middle">10<tspan font-size="6" dy="-3">5</tspan></text>
<text x="790" y="553" font-size="8.5" text-anchor="middle">10<tspan font-size="6" dy="-3">7</tspan></text>
<rect x="758" y="556" width="31" height="8" fill="url(#cb)"/>
<path d="M758.5 552 V556 M788.5 552 V556" stroke="#222" stroke-width="0.8"/>
<text class="lb" x="736" y="586" text-anchor="middle">Vehicle</text>
<text class="lb" x="812" y="586" text-anchor="middle">dmPGE2</text>
<g clip-path="url(#cV)">
<rect x="708" y="592" width="53" height="95" fill="#1e1e1e"/>
<g filter="url(#bl)">
<ellipse cx="740" cy="615" rx="18" ry="26" fill="#d8d8d8"/>
<rect x="728" y="640" width="18" height="50" fill="#8a8a8a"/>
<rect x="708" y="645" width="14" height="40" fill="#444"/>
</g>
<g filter="url(#bl1)">
<ellipse cx="731" cy="647" rx="11" ry="11" fill="#3a44c8"/>
<ellipse cx="731" cy="647" rx="6" ry="6" fill="#2868d0"/>
</g>
<line x1="713" y1="676" x2="745" y2="676" stroke="#fff" stroke-width="1.8"/>
</g>
<rect x="708" y="592" width="53" height="95" fill="none" stroke="#222" stroke-width="1"/>
<g clip-path="url(#cD)">
<rect x="786" y="592" width="52" height="95" fill="#1e1e1e"/>
<g filter="url(#bl)">
<ellipse cx="808" cy="612" rx="20" ry="24" fill="#cfcfcf"/>
<rect x="798" y="650" width="20" height="40" fill="#7a7a7a"/>
<rect x="826" y="640" width="14" height="50" fill="#333"/>
</g>
<g filter="url(#bl1)" transform="rotate(-55 812 640)">
<ellipse cx="812" cy="640" rx="36" ry="22" fill="#3a3ec8"/>
<ellipse cx="813" cy="639" rx="30" ry="18" fill="#1aa0e0"/>
<ellipse cx="814" cy="638" rx="24" ry="15" fill="#30c060"/>
<ellipse cx="815" cy="637" rx="19" ry="12" fill="#e8e020"/>
<ellipse cx="816" cy="636" rx="14" ry="9" fill="#f08020"/>
<ellipse cx="817" cy="635" rx="9" ry="6" fill="#e82020"/>
</g>
</g>
<rect x="786" y="592" width="52" height="95" fill="none" stroke="#222" stroke-width="1"/>
</svg>
</body></html>
